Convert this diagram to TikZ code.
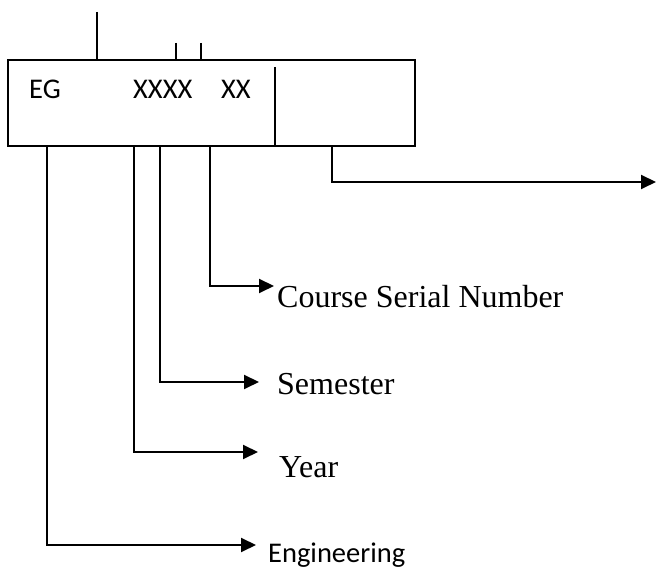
\documentclass[tikz,border=0pt]{standalone}
\usepackage{fontspec}
\setmainfont{Liberation Serif}
\newfontfamily\calib{Carlito}
\usetikzlibrary{arrows.meta}
\begin{document}
\begin{tikzpicture}[x=1pt,y=1pt,
  ln/.style={line width=2pt},
  arr/.style={line width=2pt,-{Triangle[length=15pt,width=14pt]}},
  sanslbl/.style={font=\calib\fontsize{28.5}{30}\selectfont,inner sep=0pt,anchor=base west},
  seriflbl/.style={font=\fontsize{32}{34}\selectfont,inner sep=0pt,anchor=base west}]
\useasboundingbox (0,0) rectangle (656,570);
% box
\node[draw,line width=2pt,minimum width=407pt,minimum height=86pt,inner sep=0pt] (box) at (211.5,467) {};
\node[sanslbl] (eg) at (29,471) {EG};
\node[sanslbl] (x4) at (133,471) {XXXX};
\node[sanslbl] (x2) at (221,471) {XX};
% inner divider
\coordinate (dtop) at (275,503);
\coordinate (dbot) at (275,424);
\draw[ln] (dtop) -- (dbot);
% top stubs
\coordinate (s1) at (97,558);
\coordinate (s1b) at (97,510);
\coordinate (s2) at (176,527);
\coordinate (s2b) at (176,510);
\coordinate (s3) at (201,527);
\coordinate (s3b) at (201,510);
\draw[ln] (s1) -- (s1b);
\draw[ln] (s2) -- (s2b);
\draw[ln] (s3) -- (s3b);
% labels
\node[seriflbl] (csn) at (277,262) {Course Serial Number};
\node[seriflbl] (sem) at (277,175) {Semester};
\node[seriflbl] (yr) at (279,92) {Year};
\node[sanslbl] (eng) at (268,7) {Engineering};
% connectors
\coordinate (b1) at (47,424);
\coordinate (b2) at (134,424);
\coordinate (b3) at (160,424);
\coordinate (b4) at (210,424);
\coordinate (b5) at (332,424);
\coordinate (t1) at (256,25);
\coordinate (t2) at (258,118);
\coordinate (t3) at (259,188);
\coordinate (t4) at (274,284);
\coordinate (t5) at (656,388);
\draw[arr] (b1) |- (t1);
\draw[arr] (b2) |- (t2);
\draw[arr] (b3) |- (t3);
\draw[arr] (b4) |- (t4);
\draw[arr] (b5) |- (t5);
\end{tikzpicture}
\end{document}
